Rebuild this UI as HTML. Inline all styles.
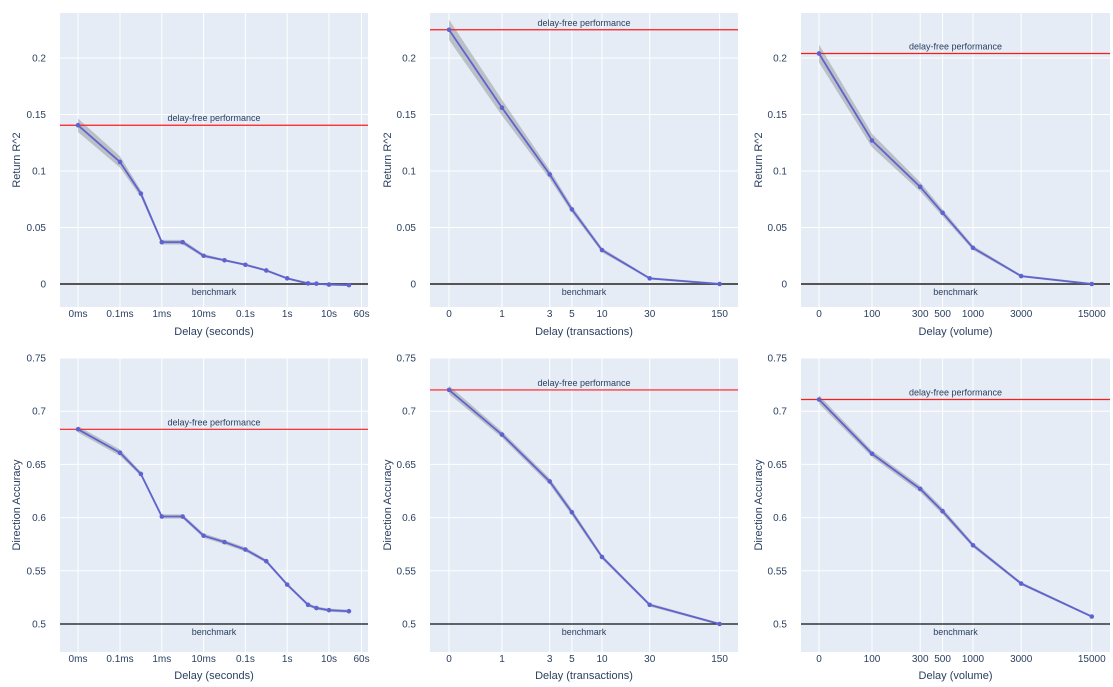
<!DOCTYPE html>
<html><head><meta charset="utf-8"><style>
html,body{margin:0;padding:0;background:#fff;}
svg{display:block;font-family:"Liberation Sans",Arial,sans-serif;}
</style></head><body>
<svg id="chart" width="1113" height="687" viewBox="0 0 1113 687" xmlns="http://www.w3.org/2000/svg"></svg>
<script>
// ---- data ----
const secondsX = [0, 1e-4, 3.16e-4, 1e-3, 3.16e-3, 1e-2, 3.16e-2, 0.1, 0.316, 1, 3.16, 5, 10, 30];
const txX = [0, 1, 3, 5, 10, 30, 150];
const volX = [0, 100, 300, 500, 1000, 3000, 15000];
const secondsTicks = [0, 1e-4, 1e-3, 1e-2, 0.1, 1, 10, 60];
const secondsTickLabels = ["0ms","0.1ms","1ms","10ms","0.1s","1s","10s","60s"];
const txTicks = [0, 1, 3, 5, 10, 30, 150];
const txTickLabels = ["0","1","3","5","10","30","150"];
const volTicks = [0, 100, 300, 500, 1000, 3000, 15000];
const volTickLabels = ["0","100","300","500","1000","3000","15000"];

const r2Seconds = [0.1405, 0.108, 0.080, 0.037, 0.037, 0.025, 0.021, 0.017, 0.012, 0.005, 0.0005, 0.0003, -0.0005, -0.001];
const r2SecondsErr = [0.006, 0.005, 0.003, 0.002, 0.002, 0.0015, 0.001, 0.001, 0.001, 0.001, 0.0008, 0.0008, 0.0008, 0.0008];
const r2Tx = [0.225, 0.156, 0.097, 0.066, 0.030, 0.005, 0.0];
const r2TxErr = [0.009, 0.007, 0.004, 0.003, 0.002, 0.001, 0.001];
const r2Vol = [0.204, 0.127, 0.086, 0.063, 0.032, 0.007, 0.0];
const r2VolErr = [0.008, 0.006, 0.004, 0.003, 0.002, 0.001, 0.001];

const accSeconds = [0.683, 0.661, 0.641, 0.601, 0.601, 0.583, 0.577, 0.570, 0.559, 0.537, 0.518, 0.515, 0.513, 0.512];
const accSecondsErr = [0.003, 0.003, 0.002, 0.002, 0.002, 0.002, 0.002, 0.002, 0.0015, 0.0015, 0.0015, 0.0015, 0.0015, 0.0015];
const accTx = [0.720, 0.678, 0.634, 0.605, 0.563, 0.518, 0.500];
const accTxErr = [0.004, 0.003, 0.003, 0.003, 0.002, 0.0015, 0.001];
const accVol = [0.711, 0.660, 0.627, 0.606, 0.574, 0.538, 0.507];
const accVolErr = [0.004, 0.003, 0.003, 0.003, 0.002, 0.0015, 0.001];

const r2Baseline = [0.1405, 0.225, 0.204];
const accBaseline = [0.683, 0.720, 0.711];
const r2YTicks = [0, 0.05, 0.1, 0.15, 0.2];
const r2YLabels = ["0","0.05","0.1","0.15","0.2"];
const accYTicks = [0.5, 0.55, 0.6, 0.65, 0.7, 0.75];
const accYLabels = ["0.5","0.55","0.6","0.65","0.7","0.75"];

// ---- layout ----
const NS = "http://www.w3.org/2000/svg";
const svg = document.getElementById('chart');
function el(tag, attrs, parent){const e=document.createElementNS(NS,tag);for(const k in attrs)e.setAttribute(k,attrs[k]);(parent||svg).appendChild(e);return e;}

const cols = [
  {x0:60, x1:368, zero:78, one:120, per:41.8, oneV:1e-4, xs:secondsX, ticks:secondsTicks, tl:secondsTickLabels, title:"Delay (seconds)", ytx:20},
  {x0:430, x1:738, zero:449, one:502, per:100, oneV:1, xs:txX, ticks:txTicks, tl:txTickLabels, title:"Delay (transactions)", ytx:391},
  {x0:801, x1:1110, zero:819, one:872, per:101, oneV:100, xs:volX, ticks:volTicks, tl:volTickLabels, title:"Delay (volume)", ytx:762}
];
const rows = [
  {y0:13, y1:307, vZero:0, pZero:284, pxPer:56.5/0.05, yt:r2YTicks, yl:r2YLabels, title:"Return R^2", data:[r2Seconds,r2Tx,r2Vol], err:[r2SecondsErr,r2TxErr,r2VolErr], base:r2Baseline, bench:0, benchColor:"#555", benchW:2, tickY:317, titleY:335},
  {y0:358, y1:652, vZero:0.5, pZero:624, pxPer:53.2/0.05, yt:accYTicks, yl:accYLabels, title:"Direction Accuracy", data:[accSeconds,accTx,accVol], err:[accSecondsErr,accTxErr,accVolErr], base:accBaseline, bench:0.5, benchColor:"#111", benchW:1.2, tickY:662, titleY:679}
];

rows.forEach((R, ri) => {
  cols.forEach((C, ci) => {
    const xf = v => v <= 0 ? C.zero : C.one + C.per*Math.log10(v / C.oneV);
    const yf = v => R.pZero - (v - R.vZero)*R.pxPer;
    const g = el('g', {});
    
    
    const bg = el('rect', {x:C.x0, y:R.y0, width:C.x1-C.x0, height:R.y1-R.y0, fill:'#e5ecf6'}, g);
    
    
    C.ticks.forEach((t, i) => {
      const x = xf(t);
      const gl = el('line', {x1:x, x2:x, y1:R.y0, y2:R.y1, stroke:'#fff', 'stroke-width':1}, g);
      
      
      const tx = el('text', {x:x, y:R.tickY, 'font-size':10, fill:'#2a3f5f', 'text-anchor':'middle'}, g);
      tx.textContent = C.tl[i];
      
      
    });
    R.yt.forEach((t, i) => {
      const y = yf(t);
      const gl = el('line', {x1:C.x0, x2:C.x1, y1:y, y2:y, stroke:'#fff', 'stroke-width':1}, g);
      
      
      const tx = el('text', {x:C.x0-14, y:y+3.5, 'font-size':10, fill:'#2a3f5f', 'text-anchor':'end'}, g);
      tx.textContent = R.yl[i];
      
      
    });
    const xt = el('text', {x:(C.x0+C.x1)/2, y:R.titleY, 'font-size':11, fill:'#2a3f5f', 'text-anchor':'middle'}, g);
    xt.textContent = C.title;
    
    
    const ym = (R.y0+R.y1)/2;
    const yt = el('text', {x:C.ytx, y:ym, 'font-size':11, fill:'#2a3f5f', 'text-anchor':'middle', transform:`rotate(-90 ${C.ytx} ${ym})`}, g);
    yt.textContent = R.title;
    
    
    const by = yf(R.bench);
    const bl = el('line', {x1:C.x0, x2:C.x1, y1:by, y2:by, stroke:R.benchColor, 'stroke-width':R.benchW}, g);
    
    
    const bt = el('text', {x:(C.x0+C.x1)/2, y:by+11, 'font-size':9, fill:'#2a3f5f', 'text-anchor':'middle'}, g);
    bt.textContent = 'benchmark';
    
    
    const ys = R.data[ci], es = R.err[ci];
    let up = C.xs.map((x,i)=>`${xf(x)},${yf(ys[i]+es[i])}`);
    let dn = C.xs.map((x,i)=>`${xf(x)},${yf(ys[i]-es[i])}`).reverse();
    const band = el('polygon', {points:up.concat(dn).join(' '), fill:'rgba(90,90,90,0.3)', stroke:'none'}, g);
    
    
    const ry = yf(R.base[ci]);
    const rl = el('line', {x1:C.x0, x2:C.x1, y1:ry, y2:ry, stroke:'#ff1a1a', 'stroke-width':1.2}, g);
    
    
    const rt = el('text', {x:(C.x0+C.x1)/2, y:ry-4, 'font-size':9, fill:'#2a3f5f', 'text-anchor':'middle'}, g);
    rt.textContent = 'delay-free performance';
    
    
    const pl = el('polyline', {points:C.xs.map((x,i)=>`${xf(x)},${yf(ys[i])}`).join(' '), fill:'none', stroke:'#5f63cf', 'stroke-width':1.8}, g);
    
    
    C.xs.forEach((x,i)=>{
      const c = el('circle', {cx:xf(x), cy:yf(ys[i]), r:2.3, fill:'#5f63cf'}, g);
      
      
    });
  });
});
</script>
</body></html>
